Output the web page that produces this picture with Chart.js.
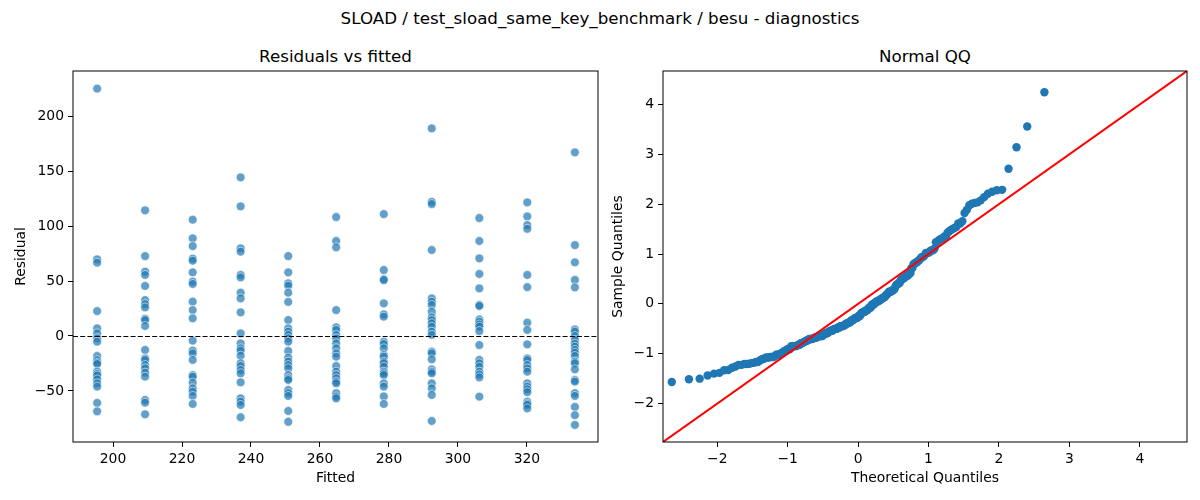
<!DOCTYPE html>
<html>
<head>
<meta charset="utf-8">
<script src="https://cdn.jsdelivr.net/npm/chart.js@4.4.1/dist/chart.umd.min.js"></script>
<style>
  html, body { margin: 0; padding: 0; background: #fff; }
  body { width: 1200px; height: 500px; position: relative; overflow: hidden; font-family: "DejaVu Sans", sans-serif; color: #000; }
  .title { position: absolute; transform: translate(-50%, -50%); white-space: nowrap; font-size: 16.7px; }
  canvas { position: absolute; top: 40px; }
</style>
</head>
<body>
<div class="title" style="left:600px;top:18px">SLOAD / test_sload_same_key_benchmark / besu - diagnostics</div>
<div class="title" style="left:335.5px;top:56px">Residuals vs fitted</div>
<div class="title" style="left:925px;top:56px">Normal QQ</div>
<canvas id="resid" width="610" height="460" style="left:0"></canvas>
<canvas id="qq" width="590" height="460" style="left:610px"></canvas>
<script>
// fitted value of each group (x position of the columns)
const fitted = [195.4, 209.3, 223.1, 237.0, 250.8, 264.7, 278.5, 292.4, 306.2, 320.1, 333.9];

// residuals read per column
const resid195 = [225, 69.7, 66.7, 22.7, 7, 2.4, -2.1, -5.2, -18.2, -22, -24.2, -25.5, -32.4, -34.5, -36, -39.4, -43, -46, -60.9, -68.5];
const resid209 = [114.3, 72.7, 58.5, 55.5, 45.5, 32.7, 29, 26, 15.8, 14.5, 9.1, -12.7, -20.3, -21.8, -26.4, -29.4, -33.3, -37, -58.2, -60.6, -71.2];
const resid223 = [105.8, 88.8, 81.8, 70.3, 68.5, 57.9, 49.4, 47.3, 31.2, 23.6, 16.1, -4.2, -13.3, -15.8, -21.8, -35.5, -37, -42.4, -47.6, -50.6, -54.5, -61.8];
const resid237 = [144.3, 117.9, 79.7, 76.7, 55.5, 53.3, 39.4, 34.2, 21.5, 2.4, -6.7, -11.2, -13.3, -17.9, -24.8, -27.3, -30.9, -33.9, -42.1, -56.7, -59.7, -62.7, -73.9];
const resid251 = [72.7, 57.9, 47.9, 45.8, 39.4, 31, 14.5, 7, 4, 1, -2.1, -5.2, -13.6, -19.7, -23.3, -26.4, -29.4, -35.5, -38.5, -40, -49.1, -52, -54.5, -68.2, -78];
const resid265 = [108.2, 86.4, 80.6, 23.6, 7.9, 5.5, 1, -2.1, -6.7, -11.2, -15.8, -18.8, -27.3, -32.4, -35.5, -38.5, -41.5, -43, -52, -55, -56.7];
const resid279 = [110.9, 60, 51.8, 50.9, 29.7, 19.7, 17.6, -5.2, -7.3, -11.2, -17.3, -18.8, -23.3, -24.8, -27.9, -32.4, -33.9, -35.5, -43, -46, -55, -61.8];
const resid292 = [188.8, 122, 120, 78.2, 34.2, 31.2, 28.2, 22.1, 16.9, 14.5, 11.5, 8.5, 4, 1, -14.2, -15.8, -21.2, -30.3, -32.4, -33.9, -43, -47.6, -53.6, -77.3];
const resid306 = [107.3, 86.4, 70.6, 56.4, 43.3, 28.2, 27.3, 15, 13, 10.5, 8.5, 4.5, -8.2, -21.8, -24.8, -27.9, -32.4, -35, -37.6, -55.2];
const resid320 = [121.5, 108.8, 100.9, 97.5, 55.5, 44.5, 12.1, 5.5, -7.6, -20.3, -21.8, -26.4, -29.4, -32.4, -43, -46, -48.5, -51, -59.7, -61.5, -62.7, -65.8];
const resid334 = [167, 82.7, 67, 51, 44.2, 6, 4, 0, -3.6, -7, -9.7, -12.7, -15.2, -18.2, -23.3, -24.8, -30.3, -40, -41.5, -52, -54.5, -64.5, -72, -80.9];
const residGroups = [resid195, resid209, resid223, resid237, resid251, resid265, resid279, resid292, resid306, resid320, resid334];

// axis ticks and limits
const fittedTicks = [200, 220, 240, 260, 280, 300, 320];
const residTicks = [-50, 0, 50, 100, 150, 200];
const fittedRange = [188.4, 340.6];
const residRange = [-96.4, 241];
const qqTicks = [-2, -1, 0, 1, 2, 3, 4];
const qqRange = [-2.77, 4.67];

const FONT = { family: '"DejaVu Sans", sans-serif', size: 13.9 };

// inverse normal cdf (Acklam), used for the theoretical quantiles
function normInv(p) {
  const a = [-3.969683028665376e+01, 2.209460984245205e+02, -2.759285104469687e+02, 1.383577518672690e+02, -3.066479806614716e+01, 2.506628277459239e+00];
  const b = [-5.447609879822406e+01, 1.615858368580409e+02, -1.556989798598866e+02, 6.680131188771972e+01, -1.328068155288572e+01];
  const c = [-7.784894002430293e-03, -3.223964580411365e-01, -2.400758277161838e+00, -2.549732539343734e+00, 4.374664141464968e+00, 2.938163982698783e+00];
  const d = [7.784695709041462e-03, 3.224671290700398e-01, 2.445134137142996e+00, 3.754408661907416e+00];
  const lo = 0.02425;
  if (p < lo) {
    const q = Math.sqrt(-2 * Math.log(p));
    return (((((c[0]*q+c[1])*q+c[2])*q+c[3])*q+c[4])*q+c[5]) / ((((d[0]*q+d[1])*q+d[2])*q+d[3])*q+1);
  }
  if (p > 1 - lo) {
    const q = Math.sqrt(-2 * Math.log(1 - p));
    return -(((((c[0]*q+c[1])*q+c[2])*q+c[3])*q+c[4])*q+c[5]) / ((((d[0]*q+d[1])*q+d[2])*q+d[3])*q+1);
  }
  const q = p - 0.5, r = q * q;
  return (((((a[0]*r+a[1])*r+a[2])*r+a[3])*r+a[4])*r+a[5])*q / (((((b[0]*r+b[1])*r+b[2])*r+b[3])*r+b[4])*r+1);
}

// black box round the plot area, like matplotlib spines
const frame = {
  id: 'frame',
  afterDatasetsDraw(chart) {
    const { ctx, chartArea: a } = chart;
    ctx.save();
    ctx.strokeStyle = '#000';
    ctx.lineWidth = 1;
    ctx.strokeRect(a.left, a.top, a.right - a.left, a.bottom - a.top);
    ctx.restore();
  }
};

// dashed horizontal line at residual 0
const zeroLine = {
  id: 'zeroLine',
  afterDatasetsDraw(chart) {
    const { ctx, chartArea: a, scales } = chart;
    const y = Math.round(scales.y.getPixelForValue(0)) + 0.5;
    ctx.save();
    ctx.strokeStyle = '#000';
    ctx.lineWidth = 1;
    ctx.setLineDash([5, 2.2]);
    ctx.beginPath();
    ctx.moveTo(a.left, y);
    ctx.lineTo(a.right, y);
    ctx.stroke();
    ctx.restore();
  }
};

function axis(range, tickList, title, titlePad, size, horizontal) {
  return {
    type: 'linear',
    min: range[0],
    max: range[1],
    afterBuildTicks: (s) => { s.ticks = tickList.map(v => ({ value: v })); },
    afterFit: (s) => { if (horizontal) s.height = size; else s.width = size; },
    grid: { display: true, drawOnChartArea: false, drawTicks: true, tickLength: 5, color: '#000', tickColor: '#000' },
    border: { display: false },
    ticks: {
      color: '#000', font: FONT, padding: 4, maxRotation: 0, autoSkip: false,
      callback: (v) => (v < 0 ? '\u2212' + Math.abs(v) : String(v))
    },
    title: { display: true, text: title, color: '#000', font: FONT, padding: titlePad }
  };
}

// left panel: residuals vs fitted
const residPoints = [];
residGroups.forEach((group, i) => {
  group.forEach(r => residPoints.push({ x: fitted[i], y: r }));
});

new Chart(document.getElementById('resid'), {
  type: 'scatter',
  data: {
    datasets: [{
      data: residPoints,
      backgroundColor: 'rgba(31,119,180,0.7)',
      borderColor: 'rgba(255,255,255,0.7)',
      borderWidth: 0.8,
      pointRadius: 4.4,
      pointHoverRadius: 4.4
    }]
  },
  options: {
    responsive: false,
    animation: false,
    layout: { padding: { left: 0, top: 31, right: 12, bottom: 0 } },
    plugins: { legend: { display: false }, tooltip: { enabled: false } },
    scales: {
      x: axis(fittedRange, fittedTicks, 'Fitted', { top: 0, bottom: 13 }, 58, true),
      y: axis(residRange, residTicks, 'Residual', { top: 13.5, bottom: 0 }, 73, false)
    }
  },
  plugins: [zeroLine, frame]
});

// right panel: normal QQ of the same residuals (standardised, positions i/(n+1))
const allResid = residGroups.flat().sort((a, b) => a - b);
const n = allResid.length;
const mean = allResid.reduce((s, v) => s + v, 0) / n;
const sd = Math.sqrt(allResid.reduce((s, v) => s + (v - mean) * (v - mean), 0) / n);
const qqPoints = allResid.map((v, i) => ({ x: normInv((i + 1) / (n + 1)), y: (v - mean) / sd }));

new Chart(document.getElementById('qq'), {
  type: 'scatter',
  data: {
    datasets: [
      {
        type: 'line',
        data: [{ x: qqRange[0], y: qqRange[0] }, { x: qqRange[1], y: qqRange[1] }],
        borderColor: '#ff0000',
        borderWidth: 2,
        pointRadius: 0,
        order: 0
      },
      {
        data: qqPoints,
        backgroundColor: '#1f77b4',
        borderWidth: 0,
        pointRadius: 4.2,
        pointHoverRadius: 4.2,
        order: 1
      }
    ]
  },
  options: {
    responsive: false,
    animation: false,
    layout: { padding: { left: 0, top: 31, right: 13, bottom: 0 } },
    plugins: { legend: { display: false }, tooltip: { enabled: false } },
    scales: {
      x: axis(qqRange, qqTicks, 'Theoretical Quantiles', { top: 0, bottom: 13 }, 58, true),
      y: axis(qqRange, qqTicks, 'Sample Quantiles', { top: 0, bottom: 0 }, 53, false)
    }
  },
  plugins: [frame]
});
</script>
</body>
</html>
